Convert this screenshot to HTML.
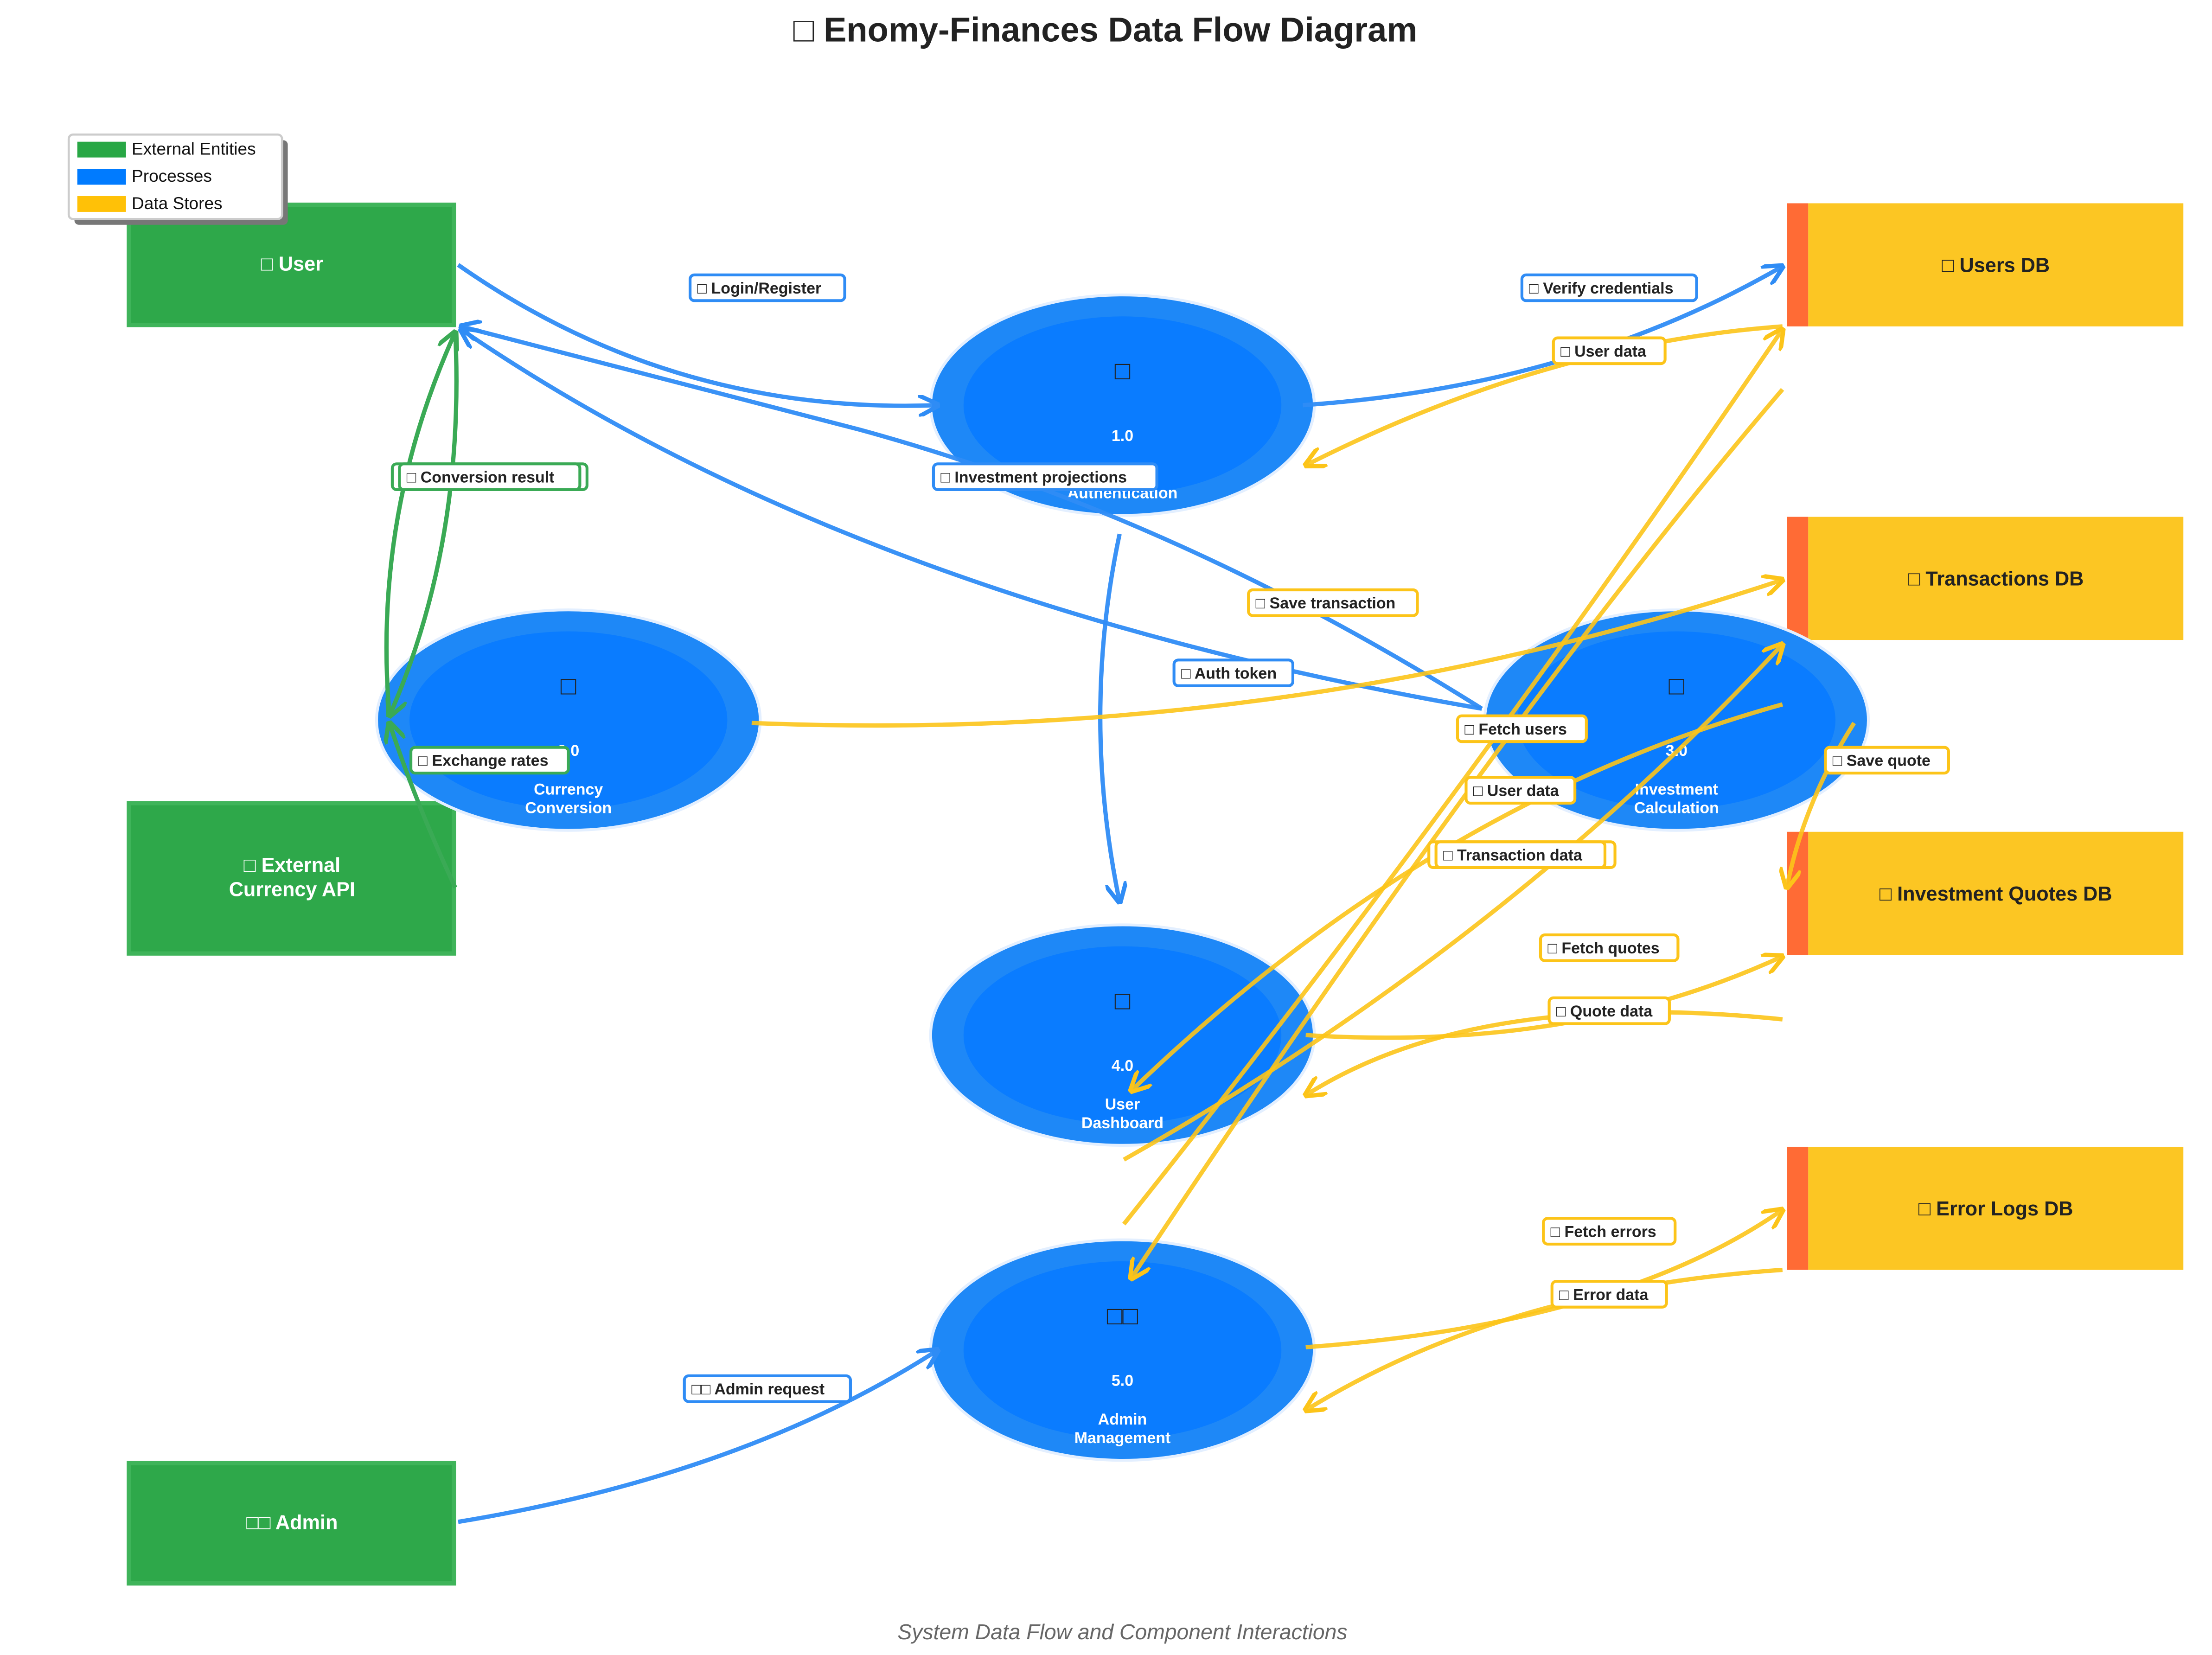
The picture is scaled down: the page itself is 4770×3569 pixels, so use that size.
<!DOCTYPE html>
<html><head><meta charset="utf-8"><style>
html,body{margin:0;padding:0;background:#fff;}
svg{display:block;}
text{font-family:"Liberation Sans",Arial,sans-serif;}
.lb{font-size:11px;font-weight:bold;fill:#222;}
.nd{font-size:14px;font-weight:bold;fill:#fff;text-anchor:middle;}
.pn{font-size:11px;font-weight:bold;fill:#fff;text-anchor:middle;}
</style></head><body>
<svg width="4770" height="3569" viewBox="0 0 1545 1156" xmlns="http://www.w3.org/2000/svg">
<defs>
<marker id="ab" viewBox="0 0 10 10" refX="9" refY="5" markerWidth="5" markerHeight="5" orient="auto"><path d="M0,0 L10,5 L0,10" fill="none" stroke="#2f8cf5" stroke-width="2"/></marker>
<marker id="ay" viewBox="0 0 10 10" refX="9" refY="5" markerWidth="5" markerHeight="5" orient="auto"><path d="M0,0 L10,5 L0,10" fill="none" stroke="#fcc419" stroke-width="2"/></marker>
<marker id="ag" viewBox="0 0 10 10" refX="9" refY="5" markerWidth="5" markerHeight="5" orient="auto"><path d="M0,0 L10,5 L0,10" fill="none" stroke="#3aaa55" stroke-width="2"/></marker>
</defs>
<rect width="1545" height="1156" fill="#fff"/>
<text x="772" y="29" text-anchor="middle" font-size="24" font-weight="bold" fill="#222">□ Enomy-Finances Data Flow Diagram</text>

<!-- external entities -->
<g fill="#2ea84a" stroke="#3fb45a" stroke-width="3">
<rect x="90" y="143" width="227" height="84"/>
<rect x="90" y="561" width="227" height="105"/>
<rect x="90" y="1022" width="227" height="84"/>
</g>
<text class="nd" x="204" y="189">□ User</text>
<text class="nd" x="204" y="609">□ External</text>
<text class="nd" x="204" y="626">Currency API</text>
<text class="nd" x="204" y="1068">□□ Admin</text>

<!-- data stores -->
<g>
<rect x="1248" y="142" width="15" height="86" fill="#ff6b35"/><rect x="1263" y="142" width="262" height="86" fill="#fcc623"/>
<rect x="1248" y="361" width="15" height="86" fill="#ff6b35"/><rect x="1263" y="361" width="262" height="86" fill="#fcc623"/>
<rect x="1248" y="581" width="15" height="86" fill="#ff6b35"/><rect x="1263" y="581" width="262" height="86" fill="#fcc623"/>
<rect x="1248" y="801" width="15" height="86" fill="#ff6b35"/><rect x="1263" y="801" width="262" height="86" fill="#fcc623"/>
</g>
<g font-size="14" font-weight="bold" fill="#222" text-anchor="middle">
<text x="1394" y="190">□ Users DB</text>
<text x="1394" y="409">□ Transactions DB</text>
<text x="1394" y="629">□ Investment Quotes DB</text>
<text x="1394" y="849">□ Error Logs DB</text>
</g>

<!-- processes -->
<g>
<ellipse cx="784" cy="283" rx="134" ry="77" fill="#1e88f7" stroke="#e3efff" stroke-width="2"/><ellipse cx="784" cy="283" rx="111" ry="62" fill="#0a7cff"/>
<ellipse cx="397" cy="503" rx="134" ry="77" fill="#1e88f7" stroke="#e3efff" stroke-width="2"/><ellipse cx="397" cy="503" rx="111" ry="62" fill="#0a7cff"/>
<ellipse cx="1171" cy="503" rx="134" ry="77" fill="#1e88f7" stroke="#e3efff" stroke-width="2"/><ellipse cx="1171" cy="503" rx="111" ry="62" fill="#0a7cff"/>
<ellipse cx="784" cy="723" rx="134" ry="77" fill="#1e88f7" stroke="#e3efff" stroke-width="2"/><ellipse cx="784" cy="723" rx="111" ry="62" fill="#0a7cff"/>
<ellipse cx="784" cy="943" rx="134" ry="77" fill="#1e88f7" stroke="#e3efff" stroke-width="2"/><ellipse cx="784" cy="943" rx="111" ry="62" fill="#0a7cff"/>
</g>
<g font-size="18" fill="#222" text-anchor="middle">
<text x="784" y="265">□</text><text x="397" y="485">□</text><text x="1171" y="485">□</text><text x="784" y="705">□</text><text x="784" y="925">□□</text>
</g>
<text class="pn" x="784" y="308">1.0</text><text class="pn" x="784" y="348">Authentication</text>
<text class="pn" x="397" y="528">2.0</text><text class="pn" x="397" y="555">Currency</text><text class="pn" x="397" y="568">Conversion</text>
<text class="pn" x="1171" y="528">3.0</text><text class="pn" x="1171" y="555">Investment</text><text class="pn" x="1171" y="568">Calculation</text>
<text class="pn" x="784" y="748">4.0</text><text class="pn" x="784" y="775">User</text><text class="pn" x="784" y="788">Dashboard</text>
<text class="pn" x="784" y="968">5.0</text><text class="pn" x="784" y="995">Admin</text><text class="pn" x="784" y="1008">Management</text>

<!-- blue flows -->
<g fill="none" stroke="#2f8cf5" stroke-width="3" stroke-opacity="0.95">
<path d="M320,185 Q470,290 655,283" marker-end="url(#ab)"/>
<path d="M910,283 Q1100,270 1245,186" marker-end="url(#ab)"/>
<path d="M782,373 Q755,500 782,630" marker-end="url(#ab)"/>
<path d="M1035,495 Q820,360 600,300 L322,228" marker-end="url(#ab)"/>
<path d="M1035,495 Q600,420 322,230" marker-end="url(#ab)"/>
<path d="M320,1063 Q520,1030 655,943" marker-end="url(#ab)"/>
</g>
<!-- green flows -->
<g fill="none" stroke="#3aaa55" stroke-width="3">
<path d="M318,620 Q290,560 272,505" marker-end="url(#ag)"/>
<path d="M272,500 Q260,360 318,232" marker-end="url(#ag)"/>
<path d="M318,232 Q325,380 272,500" marker-end="url(#ag)"/>
</g>
<!-- yellow flows -->
<g fill="none" stroke="#fcc419" stroke-width="3" stroke-opacity="0.9">
<path d="M1245,228 Q1080,240 912,325" marker-end="url(#ay)"/>
<path d="M525,505 Q900,520 1245,405" marker-end="url(#ay)"/>
<path d="M1245,272 Q1050,500 790,893" marker-end="url(#ay)"/>
<path d="M785,855 Q1020,560 1245,230" marker-end="url(#ay)"/>
<path d="M1245,492 Q1000,560 790,762" marker-end="url(#ay)"/>
<path d="M785,810 Q1050,660 1245,450" marker-end="url(#ay)"/>
<path d="M1295,505 Q1260,560 1248,620" marker-end="url(#ay)"/>
<path d="M912,723 Q1100,735 1245,668" marker-end="url(#ay)"/>
<path d="M1245,712 Q1030,690 912,765" marker-end="url(#ay)"/>
<path d="M912,941 Q1130,925 1245,845" marker-end="url(#ay)"/>
<path d="M1245,887 Q1050,900 912,985" marker-end="url(#ay)"/>
</g>

<!-- labels -->
<g stroke-width="2" fill="#fff">
<rect x="482" y="192" width="108" height="18" rx="3" stroke="#2f8cf5"/>
<rect x="1063" y="192" width="122" height="18" rx="3" stroke="#2f8cf5"/>
<rect x="1085" y="236" width="78" height="18" rx="3" stroke="#fcc419"/>
<rect x="274" y="324" width="136" height="18" rx="3" stroke="#3aaa55"/>
<rect x="279" y="324" width="126" height="18" rx="3" stroke="#3aaa55"/>
<rect x="652" y="324" width="156" height="18" rx="3" stroke="#2f8cf5"/>
<rect x="872" y="412" width="118" height="18" rx="3" stroke="#fcc419"/>
<rect x="820" y="461" width="83" height="18" rx="3" stroke="#2f8cf5"/>
<rect x="1018" y="500" width="90" height="18" rx="3" stroke="#fcc419"/>
<rect x="287" y="522" width="110" height="18" rx="3" stroke="#3aaa55"/>
<rect x="1275" y="522" width="86" height="18" rx="3" stroke="#fcc419"/>
<rect x="1024" y="543" width="76" height="18" rx="3" stroke="#fcc419"/>
<rect x="998" y="588" width="130" height="18" rx="3" stroke="#fcc419"/>
<rect x="1003" y="588" width="118" height="18" rx="3" stroke="#fcc419"/>
<rect x="1076" y="653" width="96" height="18" rx="3" stroke="#fcc419"/>
<rect x="1082" y="697" width="84" height="18" rx="3" stroke="#fcc419"/>
<rect x="1078" y="851" width="92" height="18" rx="3" stroke="#fcc419"/>
<rect x="1084" y="895" width="80" height="18" rx="3" stroke="#fcc419"/>
<rect x="478" y="961" width="116" height="18" rx="3" stroke="#2f8cf5"/>
</g>
<g class="lb">
<text class="lb" x="487" y="205">□ Login/Register</text>
<text class="lb" x="1068" y="205">□ Verify credentials</text>
<text class="lb" x="1090" y="249">□ User data</text>
<text class="lb" x="284" y="337">□ Conversion result</text>
<text class="lb" x="657" y="337">□ Investment projections</text>
<text class="lb" x="877" y="425">□ Save transaction</text>
<text class="lb" x="825" y="474">□ Auth token</text>
<text class="lb" x="1023" y="513">□ Fetch users</text>
<text class="lb" x="292" y="535">□ Exchange rates</text>
<text class="lb" x="1280" y="535">□ Save quote</text>
<text class="lb" x="1029" y="556">□ User data</text>
<text class="lb" x="1008" y="601">□ Transaction data</text>
<text class="lb" x="1081" y="666">□ Fetch quotes</text>
<text class="lb" x="1087" y="710">□ Quote data</text>
<text class="lb" x="1083" y="864">□ Fetch errors</text>
<text class="lb" x="1089" y="908">□ Error data</text>
<text class="lb" x="483" y="974">□□ Admin request</text>
</g>

<!-- legend -->
<rect x="52" y="98" width="149" height="59" rx="3" fill="#777"/>
<rect x="48" y="94" width="149" height="59" rx="3" fill="#fff" stroke="#ccc" stroke-width="1.5"/>
<rect x="54" y="99" width="34" height="11" fill="#28a745"/>
<rect x="54" y="118" width="34" height="11" fill="#007bff"/>
<rect x="54" y="137" width="34" height="11" fill="#ffc107"/>
<g font-size="12" fill="#111">
<text x="92" y="108">External Entities</text>
<text x="92" y="127">Processes</text>
<text x="92" y="146">Data Stores</text>
</g>

<text x="784" y="1145" text-anchor="middle" font-size="15" font-style="italic" fill="#666">System Data Flow and Component Interactions</text>
</svg>
</body></html>
